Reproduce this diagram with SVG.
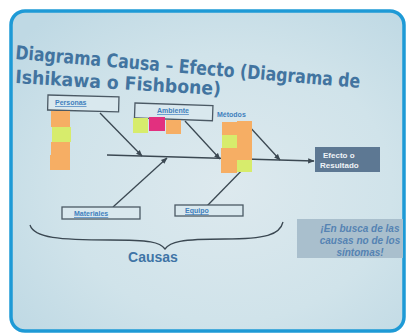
<svg xmlns="http://www.w3.org/2000/svg" width="408" height="333" viewBox="0 0 408 333">
<defs>
<radialGradient id="bg" cx="0.55" cy="0.55" r="0.7">
<stop offset="0" stop-color="#dde9ee"/>
<stop offset="0.6" stop-color="#d0e3ea"/>
<stop offset="1" stop-color="#bfd9e4"/>
</radialGradient>
<marker id="arr" viewBox="0 0 10 10" refX="9" refY="5" markerWidth="5" markerHeight="5" orient="auto-start-reverse">
<path d="M0,1 L10,5 L0,9 z" fill="#3b4852"/>
</marker>
<style>
.title{font-family:"DejaVu Sans",Verdana,sans-serif;font-weight:bold;fill:#4274a0;}
.lbl{font-family:"Liberation Sans",Arial,sans-serif;font-weight:bold;font-size:7px;fill:#3f7fbd;text-decoration:underline;}
.box{fill:#d9e8ee;stroke:#4b5964;stroke-width:1.3;}
.bone{stroke:#3b4852;stroke-width:1.3;fill:none;}
.or{fill:#f6ae64;}
.gr{fill:#d7ec6c;}
.mg{fill:#e2307f;}
.eff{font-family:"Liberation Sans",Arial,sans-serif;font-weight:bold;font-size:8px;fill:#eef3f7;}
.note{font-family:"Liberation Sans",Arial,sans-serif;font-weight:bold;font-style:italic;font-size:10px;fill:#5583b3;}
</style>
</defs>
<rect x="0" y="0" width="408" height="333" fill="#ffffff"/>
<rect x="11" y="11" width="393" height="320" rx="14" fill="url(#bg)" stroke="#1e9ad6" stroke-width="3.5"/>

<g id="title">
<text class="title" x="15" y="59" font-size="19" transform="rotate(4.8 15 59)" textLength="346" lengthAdjust="spacingAndGlyphs">Diagrama Causa – Efecto (Diagrama de</text>
<text class="title" x="15" y="83" font-size="18.5" transform="rotate(3.4 15 83)" textLength="206" lengthAdjust="spacingAndGlyphs">Ishikawa o Fishbone)</text>
</g>

<g id="connectors">
<line class="bone" x1="107" y1="155" x2="314" y2="161" marker-end="url(#arr)"/>
<line class="bone" x1="100" y1="113" x2="142" y2="156" marker-end="url(#arr)"/>
<line class="bone" x1="185" y1="121" x2="220" y2="159" marker-end="url(#arr)"/>
<line class="bone" x1="248" y1="125" x2="280" y2="160" marker-end="url(#arr)"/>
<line class="bone" x1="113" y1="207" x2="167" y2="158" marker-end="url(#arr)"/>
<line class="bone" x1="206" y1="207" x2="250" y2="162" marker-end="url(#arr)"/>
<path class="bone" d="M30,225 C34,238 60,240 110,240 C150,240 160,242 165,249 C170,242 180,239 225,239 C265,239 280,235 283,222"/>
</g>

<g id="personas">
<rect class="box" x="48" y="95" width="71" height="15" transform="rotate(1.5 48 95)"/>
<text class="lbl" x="55" y="105">Personas</text>
<rect class="or" x="51" y="111" width="19" height="16"/>
<rect class="gr" x="52" y="127" width="19" height="15"/>
<rect class="or" x="51" y="142" width="19" height="15"/>
<rect class="or" x="50" y="155" width="20" height="15"/>
</g>

<g id="ambiente">
<rect class="box" x="135" y="103" width="78" height="15" transform="rotate(2 135 103)"/>
<text class="lbl" x="157" y="113">Ambiente</text>
<rect class="gr" x="133" y="118" width="15" height="15"/>
<rect class="mg" x="149" y="117" width="16" height="14"/>
<rect class="or" x="166" y="120" width="15" height="14"/>
</g>

<g id="metodos">
<text class="lbl" x="217" y="117" style="text-decoration:none">Métodos</text>
<rect class="or" x="222" y="122" width="15" height="13"/>
<rect class="gr" x="222" y="135" width="15" height="13"/>
<rect class="or" x="221" y="148" width="16" height="13"/>
<rect class="or" x="221" y="160" width="16" height="13"/>
<rect class="or" x="237" y="121" width="15" height="14"/>
<rect class="or" x="237" y="135" width="15" height="13"/>
<rect class="or" x="237" y="148" width="15" height="12"/>
<rect class="gr" x="237" y="160" width="15" height="12"/>
</g>

<g id="materiales">
<rect class="box" x="62" y="207" width="78" height="12"/>
<text class="lbl" x="74" y="216">Materiales</text>
</g>

<g id="equipo">
<rect class="box" x="175" y="205" width="68" height="11"/>
<text class="lbl" x="185" y="213">Equipo</text>
</g>

<g id="efecto">
<rect x="315" y="147" width="65" height="25" fill="#5d7893"/>
<text class="eff" x="323" y="158">Efecto o</text>
<text class="eff" x="320" y="168">Resultado</text>
</g>

<g id="causas">
<text x="153" y="262" text-anchor="middle" font-family="'Liberation Sans',Arial,sans-serif" font-weight="bold" font-size="14" fill="#3f74a6">Causas</text>
</g>

<g id="nota">
<rect x="297" y="219" width="106" height="39" fill="#a9bfcd"/>
<text class="note" x="360" y="232" text-anchor="middle">¡En busca de las</text>
<text class="note" x="360" y="244" text-anchor="middle">causas no de los</text>
<text class="note" x="360" y="256" text-anchor="middle">síntomas!</text>
</g>
</svg>
